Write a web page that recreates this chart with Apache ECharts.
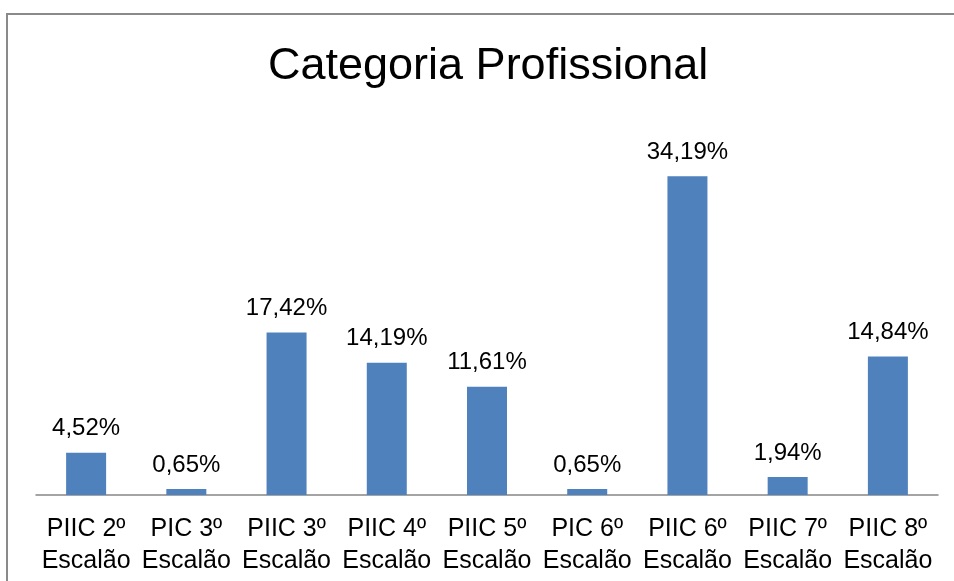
<!DOCTYPE html>
<html>
<head>
<meta charset="utf-8">
<script src="https://cdn.jsdelivr.net/npm/echarts@6/dist/echarts.min.js"></script>
<style>
html,body{margin:0;padding:0;background:#fff;}
#chart{width:954px;height:581px;}
</style>
</head>
<body>
<div id="chart"></div>
<script>
var categories = ['PIIC 2º\nEscalão','PIC 3º\nEscalão','PIIC 3º\nEscalão','PIIC 4º\nEscalão','PIIC 5º\nEscalão','PIC 6º\nEscalão','PIIC 6º\nEscalão','PIIC 7º\nEscalão','PIIC 8º\nEscalão'];
var values = [4.52, 0.65, 17.42, 14.19, 11.61, 0.65, 34.19, 1.94, 14.84];
var titleText = 'Categoria Profissional';

var FONT = 'Liberation Sans';
var chart = echarts.init(document.getElementById('chart'), null, {renderer:'canvas'});
chart.setOption({
  animation: false,
  backgroundColor: '#ffffff',
  title: {
    text: titleText,
    left: 263,
    top: 39,
    textStyle: {fontFamily: FONT, fontSize: 45, fontWeight: 'normal', color: '#000000'}
  },
  graphic: [{
    type: 'polyline',
    shape: {points: [[7, 600], [7, 14], [960, 14]]},
    style: {stroke: '#8a8a8a', lineWidth: 2, fill: null},
    silent: true
  }],
  grid: {left: 36, right: 16, top: 122, bottom: 86, containLabel: false},
  xAxis: {
    type: 'category',
    data: categories,
    axisLine: {show: true, lineStyle: {color: '#868686', width: 1.5}},
    axisTick: {show: false},
    axisLabel: {
      interval: 0,
      margin: 18,
      fontFamily: FONT,
      fontSize: 25,
      lineHeight: 32,
      color: '#000000'
    }
  },
  yAxis: {
    type: 'value',
    min: 0,
    max: 40,
    show: false,
    splitLine: {show: false}
  },
  series: [{
    type: 'bar',
    data: values,
    barWidth: 40,
    itemStyle: {color: '#4f81bd'},
    label: {
      show: true,
      position: 'top',
      distance: 12,
      fontFamily: FONT,
      fontSize: 24,
      color: '#000000',
      formatter: function (p) { return p.value.toFixed(2).replace('.', ',') + '%'; }
    }
  }]
});
</script>
</body>
</html>
